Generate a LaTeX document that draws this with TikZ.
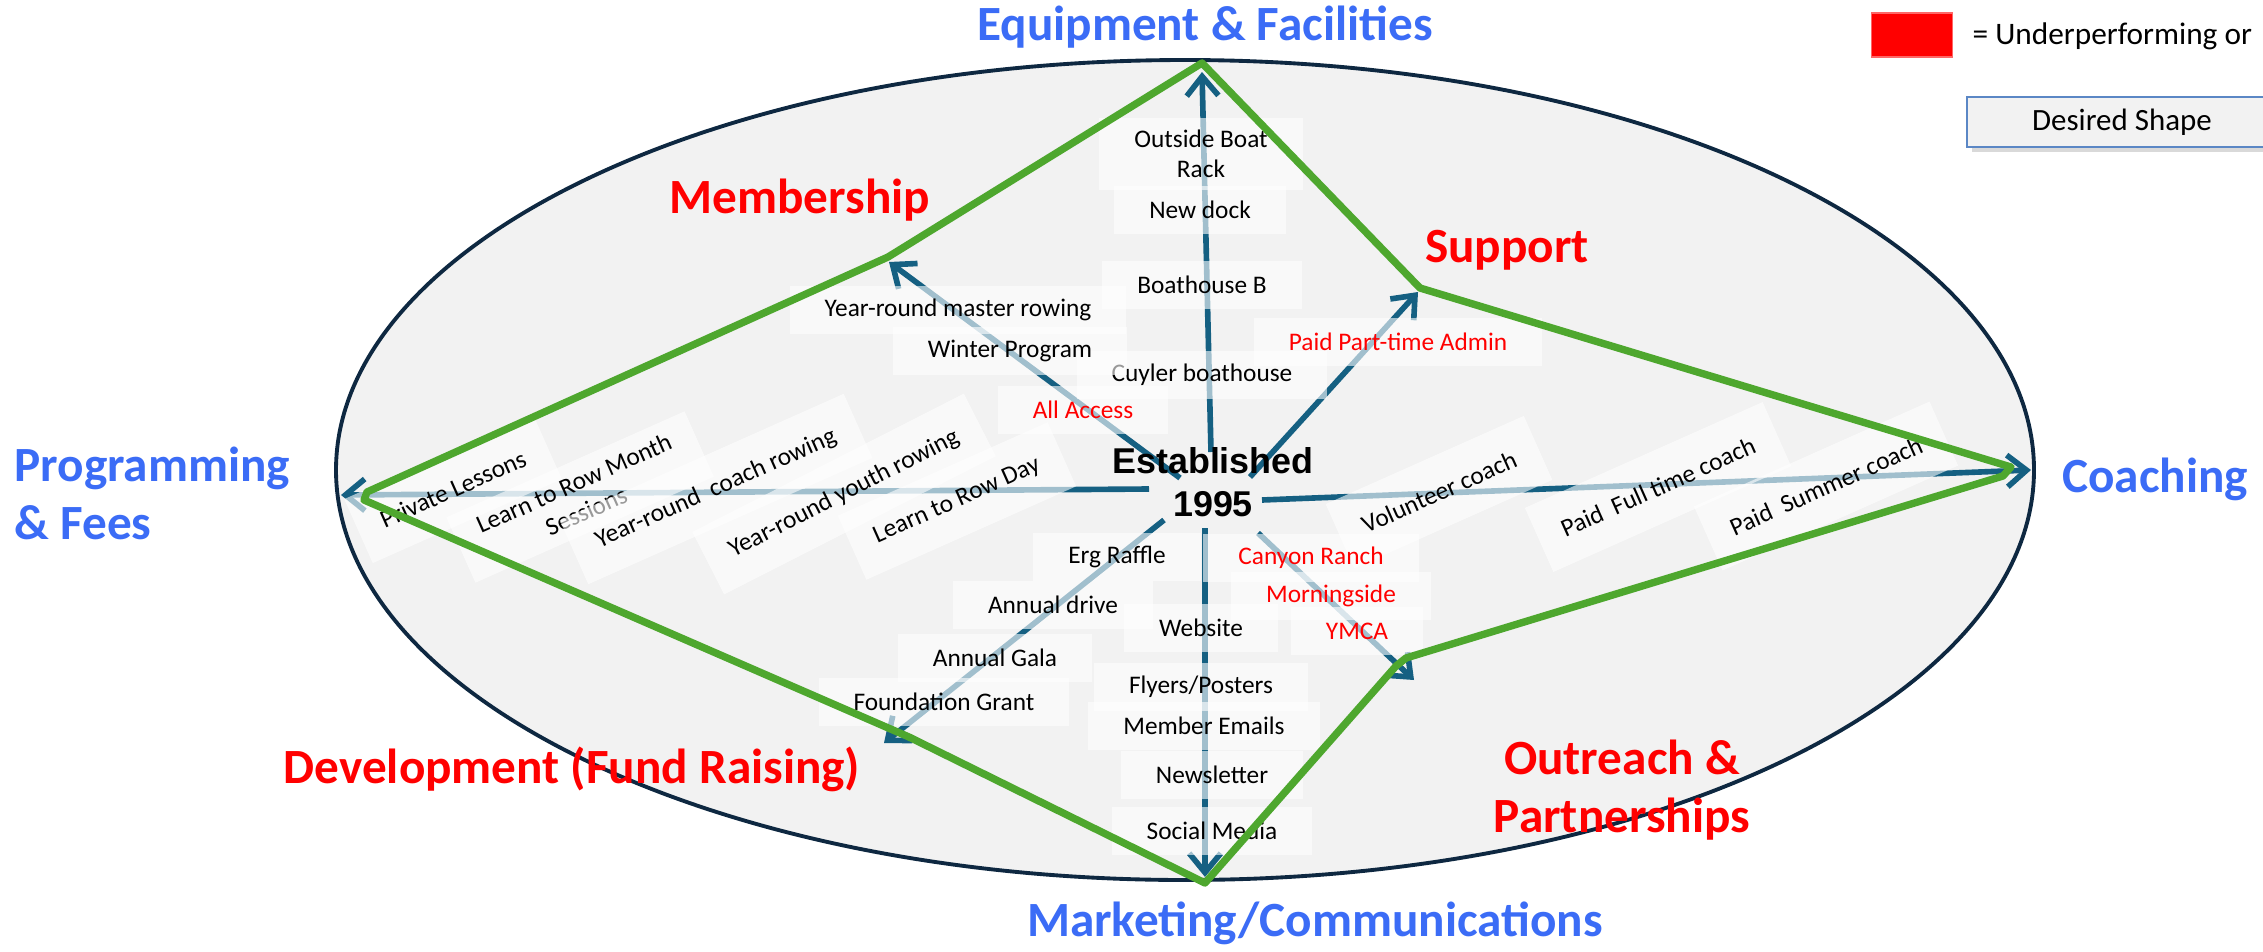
\documentclass[tikz,border=0pt]{standalone}
\usepackage{fontspec}
\setmainfont{Carlito}
\newfontfamily\arialface{Liberation Sans}
\usetikzlibrary{arrows.meta,shadows}
\definecolor{shell}{HTML}{F2F2F2}
\definecolor{rim}{HTML}{0E2841}
\definecolor{spokeblue}{HTML}{156082}
\definecolor{target}{HTML}{4EA72E}
\definecolor{areablue}{HTML}{3B6CF6}
\definecolor{under}{HTML}{FF0000}
\definecolor{frame}{HTML}{5B87C5}

\begin{document}
\begin{tikzpicture}[x=0.01cm,y=-0.01cm,>={Straight Barb[length=5.5pt,width=9pt]},
  spoke/.style={->,spokeblue,line width=1.6pt},
  outline/.style={target,line width=2.1pt,line join=round},
  item/.style={fill=white,fill opacity=.6,text opacity=1,font=\fontsize{7.2}{8.6}\selectfont,inner xsep=0.35cm,minimum height=0.48cm,align=center},
  weakitem/.style={item,text=under},
  tilted/.style={item,rotate=24,minimum height=0.7cm,inner xsep=0.25cm},
  arealabel/.style={font=\fontsize{14}{16.5}\selectfont\bfseries,text=areablue,inner sep=0pt},
  weaklabel/.style={arealabel,text=under,align=center}]
\useasboundingbox (0,0) rectangle (2263,951);
\draw[rim,fill=shell,line width=1.1pt] (1185,470) ellipse [x radius=849,y radius=410];

% spokes from the hub
\coordinate (c-eq) at (1211,452);  \coordinate (t-eq) at (1202,72);
\coordinate (c-mem) at (1180,478); \coordinate (t-mem) at (889,262);
\coordinate (c-sup) at (1250,477); \coordinate (t-sup) at (1418,292);
\coordinate (c-coa) at (1262,500); \coordinate (t-coa) at (2031,470);
\coordinate (c-pro) at (1149,489); \coordinate (t-pro) at (341,495);
\coordinate (c-dev) at (1164,520); \coordinate (t-dev) at (884,743);
\coordinate (c-mkt) at (1205,528); \coordinate (t-mkt) at (1205,877);
\coordinate (c-out) at (1258,533); \coordinate (t-out) at (1414,680);
\foreach \s in {eq,mem,sup,coa,pro,dev,mkt,out}
  \draw[spoke] (c-\s) -- (t-\s);

\node[item] (rack) at (1201,154) {Outside Boat\\Rack};
\node[item] (dock) at (1200,210) {New dock};
\node[item] (bhb) at (1202,285) {Boathouse B};
\node[item] (cuyler) at (1202,375) {Cuyler boathouse};
\node[item] (master) at (958,310) {Year-round master rowing};
\node[item] (winter) at (1010,351) {Winter Program};
\node[weakitem] (access) at (1083,410) {All Access};
\node[weakitem] (admin) at (1398,342) {Paid Part-time Admin};
\node[tilted] (volunteer) at (1439,492) {Volunteer coach};
\node[tilted] (fulltime) at (1658,487) {Paid\ \ Full time coach};
\node[tilted] (summer) at (1826,486) {Paid\ \ Summer coach};
\node[tilted] (private) at (453,489) {Private Lessons};
\node[tilted] (monthly) at (580,497) {Learn to Row Month\\Sessions};
\node[tilted] (coachrow) at (716,489) {Year-round\ \ coach rowing};
\node[tilted,rotate=3] (youthrow) at (844,494) {Year-round youth rowing};
\node[tilted] (rowday) at (957,501) {Learn to Row Day};
\node[item] (raffle) at (1117,557) {Erg Raffle};
\node[item] (drive) at (1053,605) {Annual drive};
\node[item] (gala) at (995,658) {Annual Gala};
\node[item] (grant) at (944,702) {Foundation Grant};
\node[item] (website) at (1201,628) {Website};
\node[item] (flyers) at (1201,687) {Flyers/Posters};
\node[item] (emails) at (1204,726) {Member Emails};
\node[item] (newsletter) at (1212,775) {Newsletter};
\node[item] (social) at (1212,831) {Social Media};
\node[weakitem] (canyon) at (1311,558) {Canyon Ranch};
\node[weakitem] (morning) at (1331,596) {Morningside};
\node[weakitem] (ymca) at (1357,631) {YMCA};

% desired shape
\coordinate (g-eq) at (1202,63);
\coordinate (g-sup) at (1420,288);
\coordinate (g-coa) at (2011,467);
\coordinate (g-coa2) at (2003,476);
\coordinate (g-out) at (1406,658);
\coordinate (g-out2) at (1396,666);
\coordinate (g-mkt) at (1205,883);
\coordinate (g-dev) at (909,737);
\coordinate (g-pro) at (364,500);
\coordinate (g-pro2) at (367,492);
\coordinate (g-mem) at (888,257);
\draw[outline] (g-eq) -- (g-sup) -- (g-coa) -- (g-coa2) -- (g-out) -- (g-out2) -- (g-mkt)
  -- (g-dev) -- (g-pro) -- (g-pro2) -- (g-mem) -- cycle;

\node[font=\arialface\bfseries\fontsize{10.2}{12.2}\selectfont,align=center,inner sep=0pt] (hub) at (1213,482) {Established\\1995};

\node[arealabel] (equip) at (1205,27) {Equipment \& Facilities};
\node[arealabel,anchor=west,align=left] (prog) at (14,493) {Programming\\\& Fees};
\node[arealabel] (coach) at (2155,479) {Coaching};
\node[arealabel] (market) at (1315,923) {Marketing/Communications};
\node[weaklabel] (member) at (800,200) {Membership};
\node[weaklabel] (support) at (1507,250) {Support};
\node[weaklabel] (develop) at (572,769) {Development (Fund Raising)};
\node[weaklabel] (outreach) at (1622,790) {Outreach \&\\Partnerships};

% legend
\node[fill=under,draw=under!60,minimum width=0.81cm,minimum height=0.44cm] (swatch) at (1912,35) {};
\node[anchor=west,font=\fontsize{8.9}{10}\selectfont,inner sep=0pt] (swatchtext) at (1972,36) {= Underperforming or};
\node[draw=frame,fill=shell,line width=0.6pt,drop shadow={shadow xshift=1.5pt,shadow yshift=-1.5pt,opacity=.3},minimum width=3.1cm,minimum height=0.49cm,font=\fontsize{8.8}{10}\selectfont] (want) at (2122,122) {Desired Shape};
\end{tikzpicture}
\end{document}
